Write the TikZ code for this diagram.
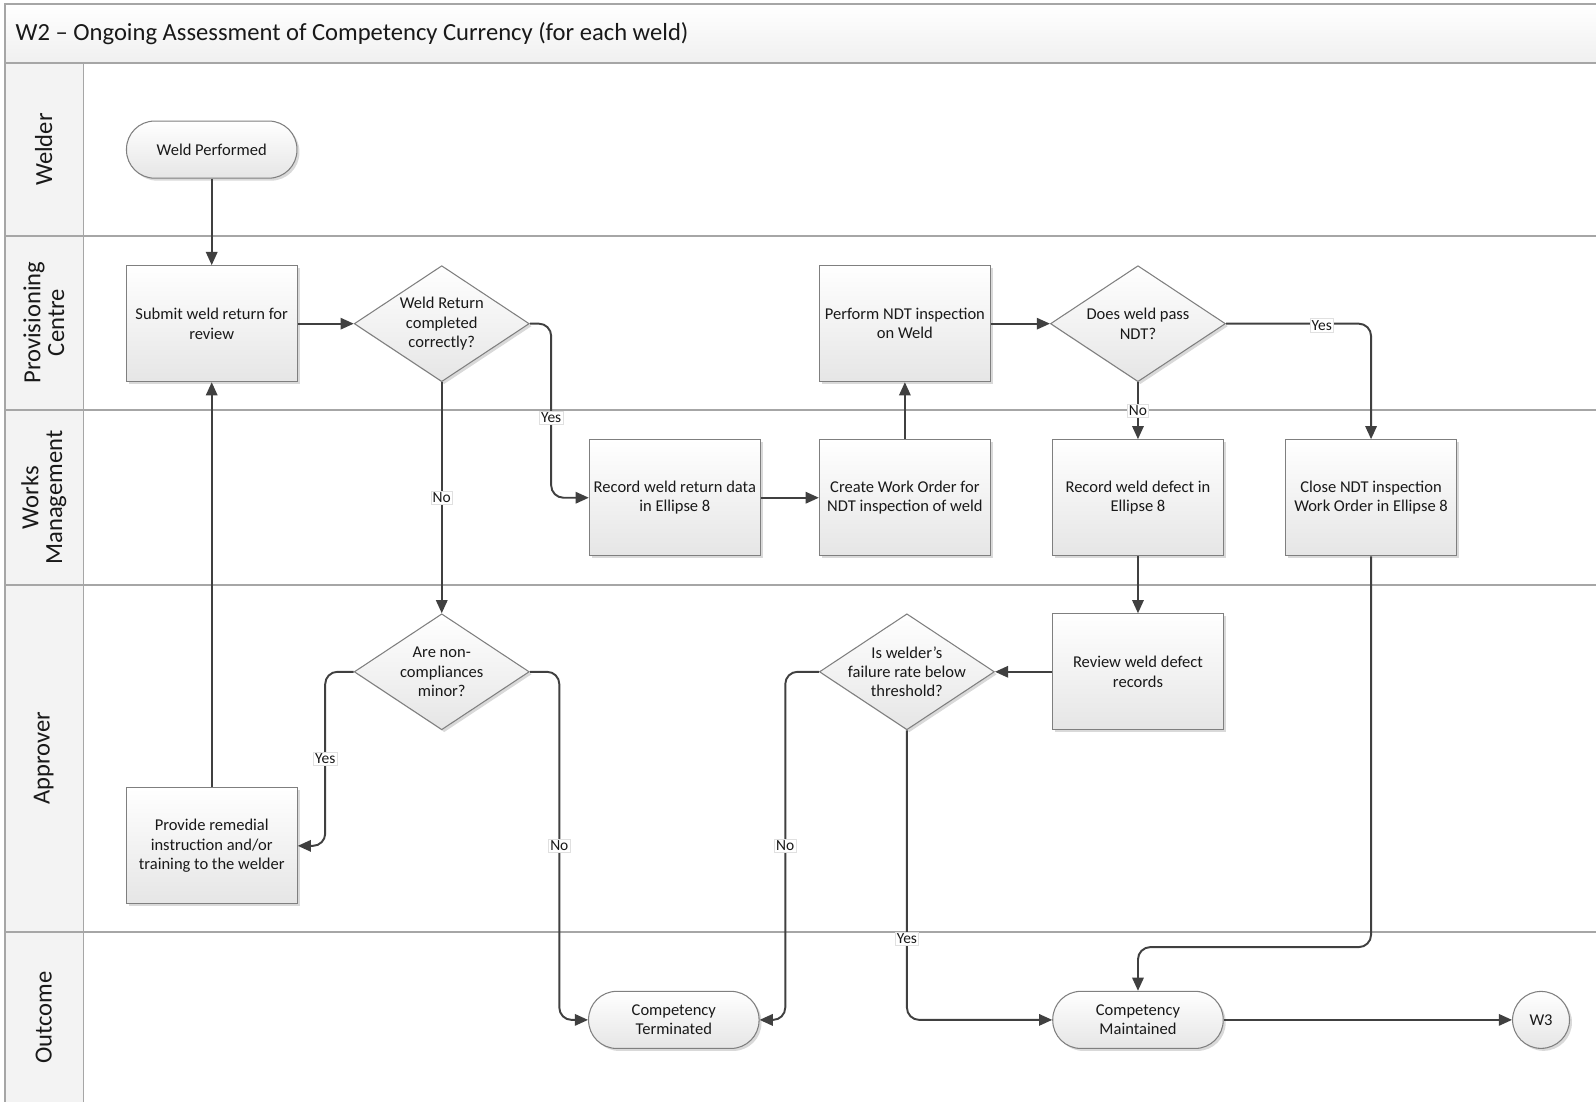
\documentclass[tikz,border=0pt]{standalone}
\usepackage{fontspec}
\setmainfont{Carlito}
\usepackage{tikz}
\usetikzlibrary{arrows.meta}
\usetikzlibrary{shadows}
\usetikzlibrary{shapes.geometric}
\definecolor{laneline}{HTML}{A6A6A6}
\definecolor{flowline}{HTML}{404040}
\definecolor{boxline}{HTML}{7F7F7F}
\definecolor{lanefill}{HTML}{F3F3F3}

\begin{document}
\begin{tikzpicture}[x=0.5792pt,y=-0.5792pt,
        every node/.style={font=\fontsize{9.4}{11}\selectfont,text=black!90},
        shape3d/.style={draw=boxline,line width=0.6pt,top color=white,bottom color=black!10,
            drop shadow={opacity=0.3,shadow xshift=1.4pt,shadow yshift=-1.4pt},align=center},
        process/.style={shape3d,rectangle,minimum width=97.3pt,minimum height=66pt,inner sep=0pt},
        decision/.style={shape3d,diamond,aspect=1.509,minimum width=99.6pt,minimum height=66pt,inner xsep=-12pt,inner ysep=0pt},
        terminal/.style={shape3d,rectangle,rounded corners=16pt,minimum width=97pt,minimum height=32.5pt,inner sep=0pt},
        offpage/.style={shape3d,circle,minimum size=32.4pt,inner sep=0pt},
        flow/.style={draw=flowline,line width=1.1pt,-{Triangle[length=7.5pt,width=6.5pt]},rounded corners=7pt},
        answer/.style={fill=white,draw=black!12,line width=0.4pt,sharp corners,inner sep=1pt,font=\fontsize{8.8}{10}\selectfont},
        lanename/.style={rotate=90,align=center,font=\fontsize{14}{13.5}\selectfont}]
        \useasboundingbox (0,0) rectangle (1568,1083);
        \shade[top color=white,bottom color=black!6] (5,4) rectangle (1568,62);
        \fill[lanefill] (5,62) rectangle (82,1083);
        \draw[laneline,line width=1pt] (1568,4) -- (5,4) -- (5,1083);
        \foreach \ly in {62,232,403,575,916}
            \draw[laneline,line width=1pt] (5,\ly) -- (1568,\ly);
        \draw[laneline,line width=1pt] (82,62) -- (82,1083);
        \node[anchor=west,inner sep=0pt,font=\fontsize{14}{16}\selectfont] (title) at (15,33) {W2 – Ongoing Assessment of Competency Currency (for each weld)};
        \node[lanename] (lwelder) at (43,147) {Welder};
        \node[lanename] (lcentre) at (43,317) {Provisioning\\Centre};
        \node[lanename] (lworks) at (43,489) {Works\\Management};
        \node[lanename] (lapprover) at (43,745) {Approver};
        \node[lanename] (loutcome) at (43,1000) {Outcome};
        \node[terminal] (performed) at (208,147) {Weld Performed};
        \node[process] (submit) at (208,318) {Submit weld return for\\review};
        \node[decision] (returnok) at (434,318) {Weld Return\\completed\\correctly?};
        \node[process] (ndt) at (889,318) {Perform NDT inspection\\on Weld};
        \node[decision] (ndtpass) at (1118,318) {Does weld pass\\NDT?};
        \node[process] (recdata) at (663,489) {Record weld return data\\in Ellipse 8};
        \node[process] (workorder) at (889,489) {Create Work Order for\\NDT inspection of weld};
        \node[process] (recdefect) at (1118,489) {Record weld defect in\\Ellipse 8};
        \node[process] (closewo) at (1347,489) {Close NDT inspection\\Work Order in Ellipse 8};
        \node[decision] (minor) at (434,660) {Are non-\\compliances\\minor?};
        \node[decision] (threshold) at (891,660) {Is welder’s\\failure rate below\\threshold?};
        \node[process] (review) at (1118,660) {Review weld defect\\records};
        \node[process] (remedial) at (208,831) {Provide remedial\\instruction and/or\\training to the welder};
        \node[terminal] (terminated) at (662,1002) {Competency\\Terminated};
        \node[terminal] (maintained) at (1118,1002) {Competency\\Maintained};
        \node[offpage] (wthree) at (1514,1002) {W3};
        \draw[flow] (performed) -- (submit);
        \draw[flow] (submit) -- (returnok);
        \draw[flow] (returnok.east) -- ++(21,0) |- node[answer,pos=0.27] {Yes} (recdata.west);
        \draw[flow] (returnok) -- node[answer] {No} (minor);
        \draw[flow] (recdata) -- (workorder);
        \draw[flow] (workorder) -- (ndt);
        \draw[flow] (ndt) -- (ndtpass);
        \draw[flow] (ndtpass) -- node[answer] {No} (recdefect);
        \draw[flow] (ndtpass.east) -| node[answer,pos=0.33,yshift=-1pt] {Yes} (closewo.north);
        \draw[flow] (recdefect) -- (review);
        \draw[flow] (review) -- (threshold);
        \draw[flow] (threshold.west) -- ++(-33,0) |- node[answer,pos=0.25] {No} (terminated.east);
        \draw[flow] (threshold.south) |- node[answer,pos=0.36] {Yes} (maintained.west);
        \draw[flow] (minor.west) -- ++(-28,0) |- node[answer,pos=0.25] {Yes} (remedial.east);
        \draw[flow] (minor.east) -- ++(29,0) |- node[answer,pos=0.25] {No} (terminated.west);
        \draw[flow] (remedial) -- (submit);
        \draw[flow] (closewo.south) -- ++(0,384) -| (maintained.north);
        \draw[flow] (maintained) -- (wthree);
\end{tikzpicture}
\end{document}
